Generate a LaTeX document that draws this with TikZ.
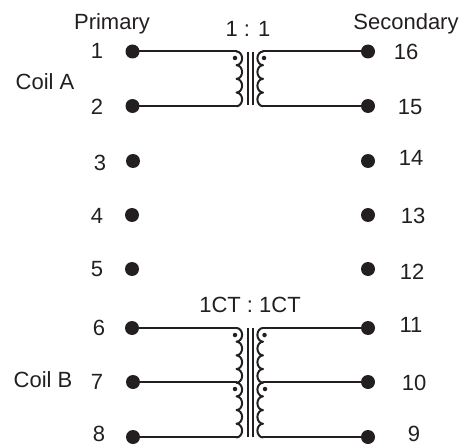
\documentclass[tikz,border=0pt]{standalone}
\usepackage{fontspec}
\setmainfont{Liberation Sans}
\definecolor{ink}{HTML}{231F20}
\tikzset{
 x=1pt,y=-1pt,
 wire/.style={draw=ink,line width=2pt,line join=round,line cap=round},
 term/.style={circle,fill=ink,inner sep=0pt,minimum size=14pt},
 pt/.style={circle,fill=ink,inner sep=0pt,minimum size=4.5pt},
 lab/.style={font=\fontsize{22}{22}\selectfont,text=ink,inner sep=0pt,anchor=center}
}
\newcommand{\coilL}[3]{% x cusp, start y, n humps
  \draw[wire] (#1,#2) \foreach \i in {1,...,#3}{ arc[start angle=-90,end angle=90,x radius=5.6,y radius=6.84] };
}
\newcommand{\coilR}[3]{%
  \draw[wire] (#1,#2) \foreach \i in {1,...,#3}{ arc[start angle=270,end angle=90,x radius=5.6,y radius=6.84] };
}
\begin{document}
\begin{tikzpicture}
\useasboundingbox (0,0) rectangle (466,444);
% terminals
\foreach \n/\x/\y in {t1/132.5/51.5,t2/132.5/106,t3/133/161,t4/132/215,t5/132/269,t6/132/328,t7/133/382,t8/133/437,
  t16/368/51.5,t15/368/106,t14/368/161,t13/368/215,t12/368/269,t11/368/328,t10/368/382,t9/368/437}
  \node[term] (\n) at (\x,\y) {};
% junction coordinates
\coordinate (a1) at (236.5,51.5); \coordinate (a2) at (236.5,106);
\coordinate (b1) at (263,51.5); \coordinate (b2) at (263,106);
\coordinate (c1) at (236.5,328); \coordinate (c2) at (236.5,382); \coordinate (c3) at (236.5,437);
\coordinate (d1) at (263,328); \coordinate (d2) at (263,382); \coordinate (d3) at (263,437);
\foreach \p/\q in {t1/a1,t2/a2,t16/b1,t15/b2,t6/c1,t7/c2,t8/c3,t11/d1,t10/d2,t9/d3}
  \draw[wire] (\p.center) -- (\q);
% coils
\coilL{236.5}{51.5}{4}
\coilR{263}{51.5}{4}
\coilL{236.5}{328}{8}
\coilR{263}{328}{8}
% cores
\coordinate (e1) at (247.5,52); \coordinate (e2) at (247.5,105);
\coordinate (f1) at (252.8,52); \coordinate (f2) at (252.8,105);
\coordinate (g1) at (248,328); \coordinate (g2) at (248,437);
\coordinate (h1) at (253,328); \coordinate (h2) at (253,437);
\draw[wire,line cap=butt] (e1)--(e2);
\draw[wire,line cap=butt] (f1)--(f2);
\draw[wire,line cap=butt] (g1)--(g2);
\draw[wire,line cap=butt] (h1)--(h2);
% polarity dots
\foreach \n/\x/\y in {p1/235/58,p2/264/58,p3/235/335,p4/264.5/335,p5/235/389,p6/265/389}
  \node[pt] (\n) at (\x,\y) {};
% labels
\foreach \n/\x/\y/\t in {
 l1/97/51/1,l2/97/107/2,l3/100/163/3,l4/97/216/4,l5/97/269/5,l6/99/328/6,l7/97/382/7,l8/99/434/8,
 r16/406/52/16,r15/410/107/15,r14/411/158/14,r13/413/216/13,r12/412/272/12,r11/411/325/11,r10/414/383/10,r9/414/434/9,
 ca/45/82/Coil A,cb/43/380/Coil B,pr/112/24/Primary,se/406/24/Secondary,ra/248/29/1 : 1,rb/250/305/1CT : 1CT}
  \node[lab] (\n) at (\x,\y) {\t};
\end{tikzpicture}
\end{document}
